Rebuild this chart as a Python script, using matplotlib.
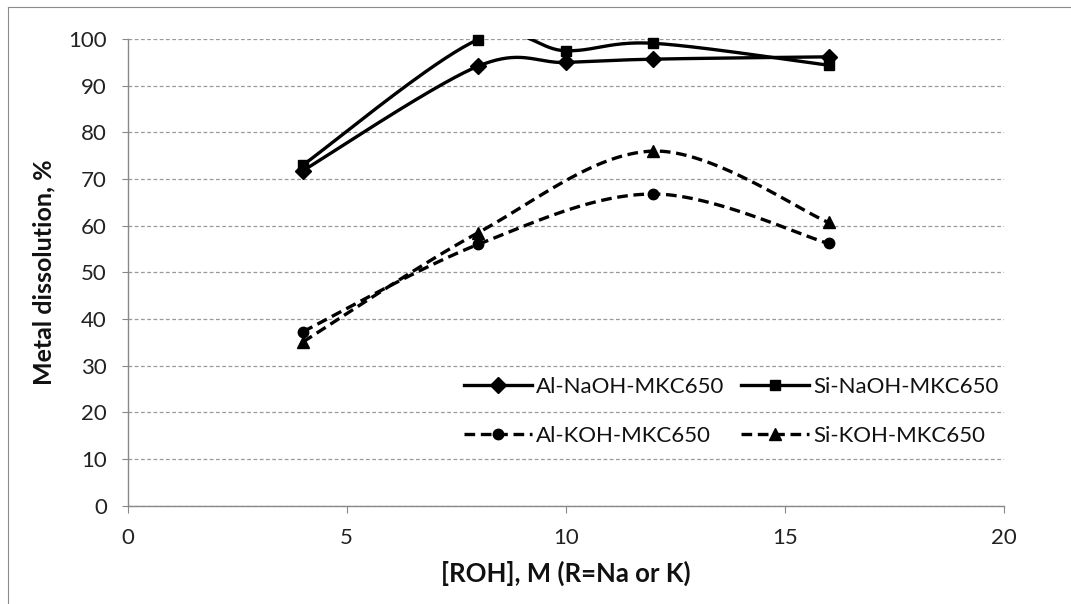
import numpy as np
import matplotlib
matplotlib.use("Agg")
import matplotlib.pyplot as plt
from matplotlib.lines import Line2D

plt.rcParams['font.family'] = ['Lato', 'DejaVu Sans']

# ---- data ----
x_na = [4, 8, 10, 12, 16]
al_naoh = [71.8, 94.2, 95.0, 95.7, 96.2]
si_naoh = [73.0, 99.9, 97.5, 99.1, 94.4]
x_k = [4, 8, 12, 16]
al_koh = [37.3, 56.0, 66.8, 56.2]
si_koh = [35.1, 58.5, 76.0, 60.7]
labels = ["Al-NaOH-MKC650", "Si-NaOH-MKC650", "Al-KOH-MKC650", "Si-KOH-MKC650"]
xticks = [0, 5, 10, 15, 20]
yticks = list(range(0, 101, 10))


def smooth(xs, ys, n=40):
    """Catmull-Rom style Bezier smoothing (like Excel's smoothed lines)."""
    P = np.column_stack([xs, ys]).astype(float)
    out = []
    m = len(P)
    for i in range(m - 1):
        p0 = P[i - 1] if i > 0 else P[i]
        p1 = P[i]
        p2 = P[i + 1]
        p3 = P[i + 2] if i + 2 < m else P[i + 1]
        c1 = p1 + (p2 - p0) / 6.0
        c2 = p2 - (p3 - p1) / 6.0
        t = np.linspace(0, 1, n)[:, None]
        seg = ((1 - t) ** 3) * p1 + 3 * ((1 - t) ** 2) * t * c1 + 3 * (1 - t) * t ** 2 * c2 + t ** 3 * p2
        if i > 0:
            seg = seg[1:]
        out.append(seg)
    s = np.vstack(out)
    return s[:, 0], s[:, 1]


W, H = 1071, 604
fig = plt.figure(figsize=(W / 100, H / 100), dpi=100)
ax = fig.add_axes([127.7 / W, (H - 505.7) / H, (1003.7 - 127.7) / W, (505.7 - 39.1) / H])

# chart border (left/top visible)
fig.add_artist(Line2D([8 / W, 8 / W], [0, 1 - 7 / H], color='#8c8c8c', lw=0.8, transform=fig.transFigure))
fig.add_artist(Line2D([8 / W, 1], [1 - 7 / H, 1 - 7 / H], color='#8c8c8c', lw=0.8, transform=fig.transFigure))

lw = 2.4
dash = (0, (3.2, 1.7))
series = [
    (x_na, al_naoh, '-', 'D', 8.5),
    (x_na, si_naoh, '-', 's', 7.5),
    (x_k, al_koh, dash, 'o', 7.5),
    (x_k, si_koh, dash, '^', 8.5),
]
handles = []
for (xs, ys, ls, mk, ms), lab in zip(series, labels):
    sx, sy = smooth(xs, ys)
    ax.plot(sx, sy, color='black', lw=lw, linestyle=ls, zorder=3)
    ax.plot(xs, ys, linestyle='none', marker=mk, ms=ms, color='black', zorder=4, clip_on=False)
    handles.append(Line2D([], [], color='black', lw=lw, linestyle=ls, marker=mk, ms=ms))

ax.set_xlim(0, 20)
ax.set_ylim(0, 100)
ax.set_xticks(xticks)
ax.set_yticks(yticks)
ax.yaxis.grid(True, color='#999999', linestyle=(0, (3, 2)), lw=0.9)
ax.set_axisbelow(True)
for s in ['top', 'right']:
    ax.spines[s].set_visible(False)
for s in ['left', 'bottom']:
    ax.spines[s].set_color('#888888')
    ax.spines[s].set_linewidth(1.0)
ax.tick_params(axis='y', direction='out', length=4, pad=11, colors='#888888', labelcolor='#222222', labelsize=16)
ax.tick_params(axis='x', direction='out', length=5, pad=11, colors='#888888', labelcolor='#222222', labelsize=16)

ax.set_xlabel("[ROH], M (R=Na or K)", fontsize=18.5, fontweight='bold', labelpad=9, color='#111111')
ax.set_ylabel("Metal dissolution, %", fontsize=18, fontweight='bold', labelpad=9, color='#111111')

order = [0, 2, 1, 3]
leg = fig.legend([handles[i] for i in order], [labels[i] for i in order], ncol=2,
                 loc='center', bbox_to_anchor=(731.5 / W, 1 - 411.5 / H), frameon=False,
                 fontsize=16, handlelength=3.05, handletextpad=0.2, columnspacing=0.75,
                 labelspacing=1.3, borderpad=0)
for t in leg.get_texts():
    t.set_color('#111111')

fig.savefig("out.png", dpi=100)
